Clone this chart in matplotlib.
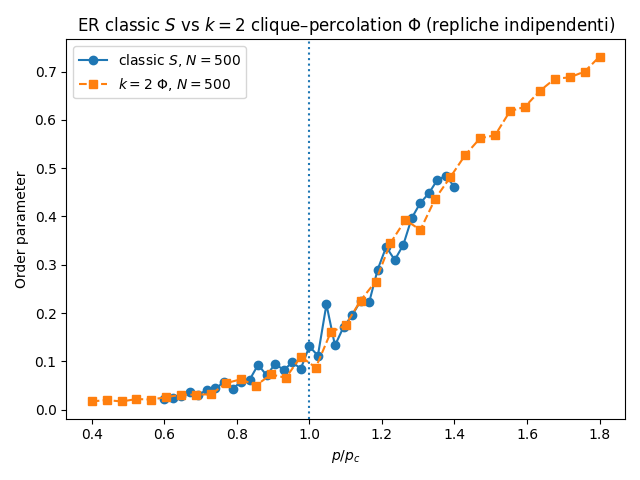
import numpy as np
import matplotlib
matplotlib.use("Agg")
import matplotlib.pyplot as plt

# classic giant component S
x_classic = np.linspace(0.6, 1.4, 35)
s_classic = [0.022, 0.025, 0.028, 0.037, 0.031, 0.041, 0.044, 0.057, 0.043, 0.058,
             0.062, 0.093, 0.071, 0.095, 0.082, 0.098, 0.085, 0.131, 0.112, 0.218,
             0.133, 0.171, 0.195, 0.225, 0.222, 0.290, 0.337, 0.310, 0.341, 0.397,
             0.428, 0.448, 0.476, 0.484, 0.461]

# k=2 clique percolation Phi
x_clique = np.linspace(0.4, 1.8, 35)
phi_clique = [0.017, 0.020, 0.017, 0.022, 0.021, 0.026, 0.031, 0.031, 0.032, 0.055,
              0.063, 0.050, 0.073, 0.066, 0.110, 0.087, 0.160, 0.175, 0.226, 0.265,
              0.345, 0.393, 0.372, 0.437, 0.481, 0.527, 0.562, 0.568, 0.618, 0.627,
              0.660, 0.685, 0.688, 0.700, 0.731]

fig, ax = plt.subplots(figsize=(6.4, 4.8), dpi=100)
ax.plot(x_classic, s_classic, "o-", label=r"classic $S$, $N=500$")
ax.plot(x_clique, phi_clique, "s--", label=r"$k=2$ $\Phi$, $N=500$")
ax.axvline(1.0, linestyle=":")
ax.set_title(r"ER classic $S$ vs $k=2$ clique–percolation $\Phi$ (repliche indipendenti)")
ax.set_xlabel(r"$p/p_c$")
ax.set_ylabel("Order parameter")
ax.legend(loc="upper left")
fig.tight_layout()
fig.savefig("out.png")
